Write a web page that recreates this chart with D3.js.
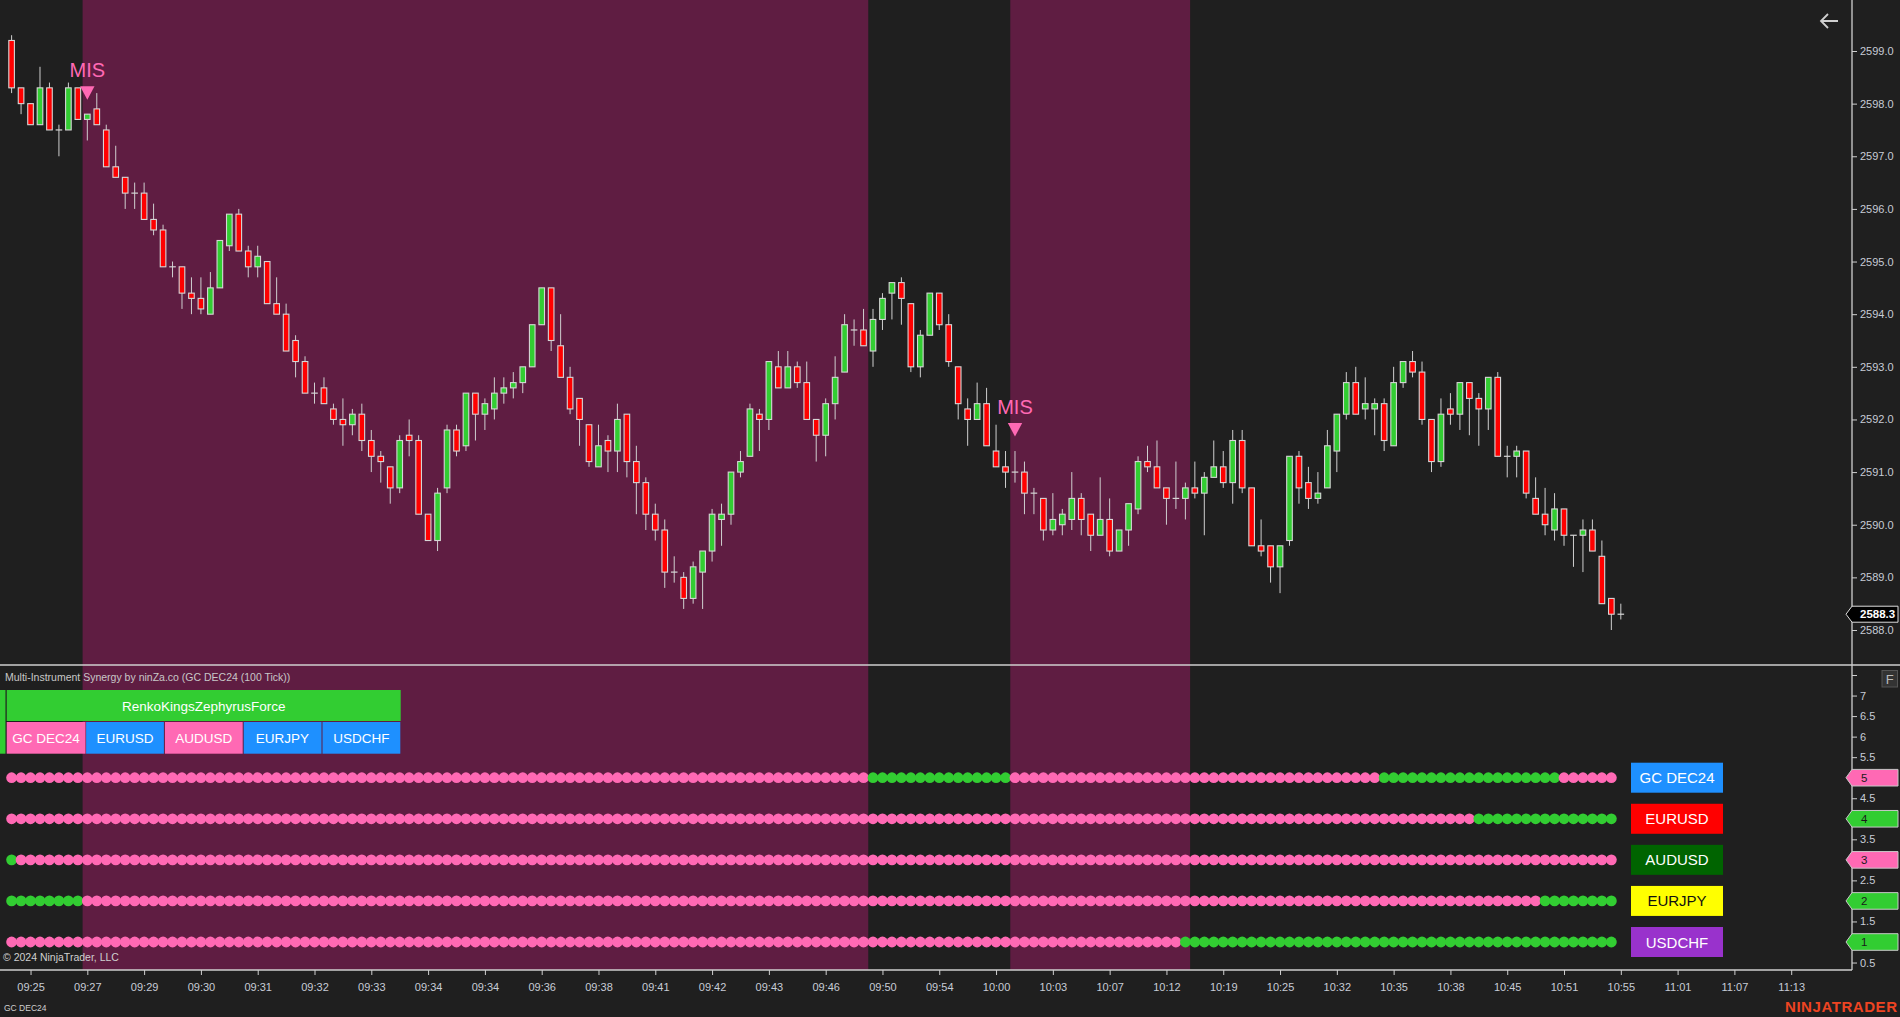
<!DOCTYPE html>
<html><head><meta charset="utf-8">
<script src="https://cdn.jsdelivr.net/npm/d3@7"></script>
<style>
html,body{margin:0;padding:0;background:#1f1f1f;overflow:hidden}
svg{display:block}
text{font-family:"Liberation Sans",Arial,sans-serif}
</style>
</head><body>
<svg id="c" width="1900" height="1017"></svg>
<script>
// ---------------- DATA ----------------
const opens=[2599.2,2598.3,2598.0,2597.6,2598.3,2597.5,2597.5,2598.3,2597.7,2597.9,
2597.5,2596.8,2596.6,2596.3,2596.3,2595.8,2595.6,2594.9,2594.9,2594.4,
2594.3,2594.0,2594.5,2595.3,2595.9,2595.2,2594.9,2595.0,2594.2,2594.0,
2593.5,2593.1,2592.5,2592.6,2592.2,2592.0,2591.9,2592.1,2591.6,2591.3,
2591.1,2590.7,2591.7,2591.6,2590.2,2589.7,2590.7,2591.8,2591.5,2592.5,
2592.1,2592.2,2592.5,2592.6,2592.7,2593.0,2593.8,2594.5,2593.4,2592.8,
2592.4,2591.9,2591.1,2591.6,2591.4,2592.1,2591.2,2590.8,2590.2,2589.9,
2589.1,2589.0,2588.6,2589.1,2589.5,2590.1,2590.2,2591.0,2591.3,2592.1,
2592.0,2593.0,2592.6,2593.0,2592.7,2592.0,2591.7,2592.3,2592.9,2593.7,
2593.7,2593.3,2593.9,2594.4,2594.6,2594.2,2593.0,2593.6,2594.4,2593.8,
2593.0,2592.2,2592.0,2592.3,2591.4,2591.1,2591.0,2591.0,2590.6,2590.5,
2589.9,2590.0,2590.1,2590.5,2590.2,2589.8,2590.1,2589.5,2589.9,2590.3,
2591.2,2591.1,2590.7,2590.5,2590.5,2590.7,2590.6,2590.9,2591.1,2590.8,
2591.6,2590.7,2589.6,2589.6,2589.2,2589.7,2591.3,2590.8,2590.5,2590.7,
2591.4,2592.1,2592.7,2592.2,2592.2,2592.3,2591.5,2592.7,2593.1,2592.9,
2592.0,2591.2,2592.2,2592.1,2592.7,2592.4,2592.2,2592.8,2591.3,2591.3,
2591.4,2590.5,2590.2,2589.9,2590.3,2589.8,2589.8,2589.9,2589.4,2588.6,
2588.3];
const highs=[2599.3,2598.3,2598.0,2598.7,2598.4,2597.6,2598.4,2598.3,2597.8,2598.2,
2597.6,2597.2,2596.6,2596.5,2596.5,2596.1,2595.7,2595.0,2594.9,2594.7,
2594.7,2594.8,2595.4,2595.9,2596.0,2595.3,2595.3,2595.0,2594.7,2594.2,
2593.6,2593.2,2592.7,2592.8,2592.3,2592.4,2592.2,2592.3,2591.8,2591.4,
2591.1,2591.7,2592.0,2591.7,2590.2,2590.7,2591.9,2591.9,2592.5,2592.5,
2592.4,2592.8,2592.8,2592.9,2593.0,2593.8,2594.5,2594.5,2594.0,2593.0,
2592.4,2591.9,2591.9,2591.7,2592.3,2592.1,2591.5,2590.9,2590.4,2590.1,
2589.4,2589.1,2589.3,2589.5,2590.3,2590.4,2591.0,2591.4,2592.3,2592.2,
2593.1,2593.3,2593.3,2593.1,2593.1,2592.0,2592.4,2593.2,2594.0,2593.9,
2594.1,2594.1,2594.4,2594.6,2594.7,2594.2,2593.7,2594.4,2594.4,2594.0,
2593.0,2592.4,2592.7,2592.6,2591.9,2591.4,2591.4,2591.2,2590.7,2590.5,
2590.6,2590.3,2591.0,2590.6,2590.2,2590.9,2590.5,2589.9,2590.4,2591.3,
2591.5,2591.6,2590.7,2591.2,2590.8,2591.2,2591.0,2591.6,2591.4,2591.8,
2591.8,2590.7,2590.1,2589.6,2589.6,2591.3,2591.4,2591.1,2591.0,2591.8,
2592.1,2592.9,2593.0,2592.8,2592.4,2592.4,2593.0,2593.1,2593.3,2593.1,
2592.0,2592.4,2592.5,2592.7,2592.7,2592.5,2592.8,2592.9,2591.5,2591.5,
2591.4,2590.9,2590.7,2590.6,2590.3,2589.8,2590.1,2590.1,2589.7,2588.6,
2588.5];
const lows=[2598.2,2597.8,2597.6,2597.6,2597.5,2597.0,2597.5,2597.7,2597.3,2597.6,
2596.8,2596.6,2596.0,2596.0,2595.8,2595.5,2594.9,2594.7,2594.1,2594.0,
2594.0,2594.0,2594.5,2595.2,2595.2,2594.7,2594.7,2594.2,2594.0,2593.3,
2592.8,2592.5,2592.3,2592.3,2591.9,2591.5,2591.7,2591.4,2591.0,2590.8,
2590.4,2590.6,2591.3,2590.2,2589.7,2589.5,2590.6,2591.3,2591.4,2591.6,
2591.8,2592.0,2592.3,2592.4,2592.5,2593.0,2593.8,2593.3,2592.8,2592.1,
2591.5,2591.1,2591.1,2591.0,2591.0,2590.9,2590.2,2589.9,2589.7,2588.8,
2588.9,2588.4,2588.5,2588.4,2589.3,2589.6,2590.0,2590.9,2591.3,2591.4,
2591.8,2592.6,2592.6,2592.6,2592.0,2591.2,2591.3,2592.0,2592.9,2593.4,
2593.4,2593.0,2593.7,2593.9,2593.8,2592.9,2592.8,2593.6,2593.7,2593.0,
2592.0,2591.5,2592.0,2591.5,2591.1,2590.7,2590.8,2590.2,2590.2,2589.7,
2589.8,2589.8,2589.9,2589.8,2589.5,2589.8,2589.4,2589.5,2589.6,2590.2,
2591.0,2590.7,2590.0,2590.3,2590.1,2590.5,2589.8,2590.9,2590.7,2590.4,
2590.6,2589.6,2589.4,2588.9,2588.7,2589.6,2590.4,2590.3,2590.4,2590.7,
2591.0,2592.0,2592.1,2592.0,2591.7,2591.4,2591.5,2592.6,2592.8,2591.9,
2591.0,2591.1,2591.9,2591.8,2591.7,2591.5,2591.8,2591.3,2590.9,2590.9,
2590.5,2590.2,2589.8,2589.7,2589.6,2589.2,2589.1,2589.5,2588.5,2588.0,
2588.2];
const closes=[2598.3,2598.0,2597.6,2598.3,2597.5,2597.5,2598.3,2597.7,2597.8,2597.6,
2596.8,2596.6,2596.3,2596.3,2595.8,2595.6,2594.9,2594.9,2594.4,2594.3,
2594.1,2594.5,2595.4,2595.9,2595.2,2594.9,2595.1,2594.2,2594.0,2593.3,
2593.1,2592.5,2592.5,2592.3,2592.0,2591.9,2592.1,2591.6,2591.3,2591.2,
2590.7,2591.6,2591.6,2590.2,2589.7,2590.6,2591.8,2591.4,2592.5,2592.1,
2592.3,2592.5,2592.6,2592.7,2593.0,2593.8,2594.5,2593.5,2592.8,2592.2,
2592.0,2591.2,2591.5,2591.4,2592.0,2591.2,2590.8,2590.2,2589.9,2589.1,
2589.1,2588.6,2589.2,2589.5,2590.2,2590.2,2591.0,2591.2,2592.2,2592.0,
2593.1,2592.6,2593.0,2592.7,2592.0,2591.7,2592.3,2592.8,2593.8,2593.7,
2593.4,2593.9,2594.3,2594.6,2594.3,2593.0,2593.6,2594.4,2593.8,2593.1,
2592.3,2592.0,2592.3,2591.5,2591.1,2591.0,2591.0,2590.6,2590.6,2589.9,
2590.1,2590.2,2590.5,2590.1,2589.8,2590.1,2589.5,2589.9,2590.4,2591.2,
2591.1,2590.7,2590.5,2590.5,2590.7,2590.6,2590.9,2591.1,2590.8,2591.6,
2590.7,2589.6,2589.5,2589.2,2589.6,2591.3,2590.7,2590.5,2590.6,2591.5,
2592.1,2592.7,2592.1,2592.3,2592.3,2591.6,2592.7,2593.1,2592.9,2592.0,
2591.2,2592.1,2592.1,2592.7,2592.4,2592.2,2592.8,2591.3,2591.3,2591.4,
2590.6,2590.2,2590.0,2590.3,2589.8,2589.8,2589.9,2589.5,2588.5,2588.3,
2588.3];

const timeLabels=["09:25","09:27","09:29","09:30","09:31","09:32","09:33","09:34","09:34","09:36",
"09:38","09:41","09:42","09:43","09:46","09:50","09:54","10:00","10:03","10:07","10:12",
"10:19","10:25","10:32","10:35","10:38","10:45","10:51","10:55","11:01","11:07","11:13"];
const priceTicks=[2588,2589,2590,2591,2592,2593,2594,2595,2596,2597,2598,2599];
const synergyTicks=[0.5,1,1.5,2,2.5,3,3.5,4,4.5,5,5.5,6,6.5,7,7.5];
const lastPrice=2588.3;

const instruments=["GC DEC24","EURUSD","AUDUSD","EURJPY","USDCHF"];
const instrumentLevels=[5,4,3,2,1];
const headerCellColors=["#ff69b4","#1e90ff","#ff69b4","#1e90ff","#1e90ff"];
const legendColors=["#1e90ff","#ff0000","#006400","#ffff00","#9932cc"];
const legendTextColors=["#ffffff","#ffffff","#ffffff","#111111","#ffffff"];
// signal runs per instrument: [firstBar, lastBar, state] (1 = bullish, -1 = bearish)
const gcRuns=[[0,90,-1],[91,105,1],[106,144,-1],[145,163,1],[164,169,-1]];
const eurusdRuns=[[0,154,-1],[155,169,1]];
const audusdRuns=[[0,0,1],[1,169,-1]];
const eurjpyRuns=[[0,7,1],[8,161,-1],[162,169,1]];
const usdchfRuns=[[0,123,-1],[124,169,1]];
const bearishBands=[[8,90],[106,124]];
const misSignals=[8,106];

// ---------------- DRAW ----------------
const svg=d3.select("#c");
const W=1900,H=1017;
const axisX=1852, dividerY=665, timeY=970;
const bull="#32cd32", bear="#ff69b4";

const x=d3.scaleLinear().domain([0,188]).range([11.6,1791.2]);
const step=x(1)-x(0);
const yP=d3.scaleLinear().domain([2588,2599]).range([630,51]);
const yS=d3.scaleLinear().domain([1,5]).range([942,777.7]);

svg.append("rect").attr("width",W).attr("height",H).attr("fill","#1f1f1f");

// bearish background bands
svg.append("g").selectAll("rect").data(bearishBands).join("rect")
  .attr("x",d=>x(d[0])-step/2).attr("width",d=>x(d[1])-x(d[0])+step)
  .attr("y",0).attr("height",timeY).attr("fill","#5f1d42");

// candles
const bars=d3.range(opens.length).map(i=>({i,o:opens[i],h:highs[i],l:lows[i],c:closes[i]}));
const cg=svg.append("g");
cg.selectAll("line.wick").data(bars).join("line").attr("class","wick")
  .attr("x1",d=>x(d.i)).attr("x2",d=>x(d.i))
  .attr("y1",d=>yP(d.h)).attr("y2",d=>yP(d.l))
  .attr("stroke","#cfcfcf").attr("stroke-width",1);
const bw=5.6;
cg.selectAll("rect.body").data(bars.filter(d=>Math.abs(d.o-d.c)>0.001)).join("rect").attr("class","body")
  .attr("x",d=>x(d.i)-bw/2).attr("width",bw)
  .attr("y",d=>yP(Math.max(d.o,d.c))).attr("height",d=>Math.abs(yP(d.o)-yP(d.c)))
  .attr("fill",d=>d.c>d.o?"#32cd32":"#ff0000")
  .attr("stroke","#d6d6d6").attr("stroke-width",1.1);
cg.selectAll("line.doji").data(bars.filter(d=>Math.abs(d.o-d.c)<=0.001)).join("line").attr("class","doji")
  .attr("x1",d=>x(d.i)-3.3).attr("x2",d=>x(d.i)+3.3)
  .attr("y1",d=>yP(d.c)).attr("y2",d=>yP(d.c))
  .attr("stroke","#d6d6d6").attr("stroke-width",1.2);

// MIS signals
const mg=svg.append("g");
misSignals.forEach(b=>{
  const yh=yP(highs[b]), cx=x(b);
  mg.append("path").attr("d",`M${cx-7.2},${yh-28}L${cx+7.2},${yh-28}L${cx},${yh-14.5}Z`).attr("fill","#ff69b4");
  mg.append("text").attr("x",cx).attr("y",yh-37).attr("text-anchor","middle")
    .attr("font-size",20).attr("fill","#ff69b4").text("MIS");
});

// divider
svg.append("line").attr("x1",0).attr("x2",W).attr("y1",dividerY).attr("y2",dividerY)
  .attr("stroke","#cfcfcf").attr("stroke-width",1.3);

// price axis
svg.append("line").attr("x1",axisX).attr("x2",axisX).attr("y1",0).attr("y2",timeY)
  .attr("stroke","#cfcfcf").attr("stroke-width",1.3);
const pa=svg.append("g").attr("transform",`translate(${axisX},0)`)
  .call(d3.axisRight(yP).tickValues(priceTicks).tickFormat(d3.format(".1f")).tickSize(5).tickPadding(3));
pa.select(".domain").remove();
pa.selectAll("line").attr("stroke","#cfcfcf");
pa.selectAll("text").attr("fill","#c7ccd6").attr("font-size",11).attr("font-family","Liberation Sans, Arial");

// last price marker
const lpY=yP(lastPrice);
svg.append("path").attr("d",`M${axisX-6},${lpY}L${axisX},${lpY-8}L1898,${lpY-8}L1898,${lpY+8}L${axisX},${lpY+8}Z`)
  .attr("fill","#000").attr("stroke","#dcdcdc").attr("stroke-width",1);
svg.append("text").attr("x",axisX+8).attr("y",lpY+4).attr("font-size",11.5).attr("font-weight","bold")
  .attr("fill","#fff").text(lastPrice.toFixed(1));

// back arrow
svg.append("path").attr("d","M1838,21H1821M1828,14L1821,21L1828,28").attr("fill","none")
  .attr("stroke","#cfcfcf").attr("stroke-width",1.8);

// lower panel title & header
svg.append("text").attr("x",5).attr("y",680.5).attr("font-size",10.5).attr("fill","#c8c8c8")
  .text("Multi-Instrument Synergy by ninZa.co (GC DEC24 (100 Tick))");
svg.append("rect").attr("x",0).attr("y",690).attr("width",5.5).attr("height",63.7).attr("fill",bull);
svg.append("rect").attr("x",6.7).attr("y",690).attr("width",394).attr("height",31).attr("fill",bull);
svg.append("text").attr("x",6.7+197).attr("y",710.5).attr("text-anchor","middle").attr("font-size",13.5)
  .attr("fill","#fff").text("RenkoKingsZephyrusForce");
const cellW=394/5;
instruments.forEach((name,k)=>{
  svg.append("rect").attr("x",6.7+k*cellW+(k?0.6:0)).attr("y",722).attr("width",cellW-(k?1:0)).attr("height",31.7)
    .attr("fill",headerCellColors[k]);
  svg.append("text").attr("x",6.7+k*cellW+cellW/2).attr("y",742.5).attr("text-anchor","middle")
    .attr("font-size",13.5).attr("fill","#fff").text(name);
});

// signal dots
const allRuns=[gcRuns,eurusdRuns,audusdRuns,eurjpyRuns,usdchfRuns];
const dg=svg.append("g");
allRuns.forEach((runs,k)=>{
  const pts=[];
  runs.forEach(r=>{for(let b=r[0];b<=r[1];b++)pts.push({b,s:r[2]});});
  dg.append("g").selectAll("circle").data(pts).join("circle")
    .attr("cx",d=>x(d.b)).attr("cy",yS(instrumentLevels[k])).attr("r",5.4)
    .attr("fill",d=>d.s>0?bull:bear);
});

// legend boxes at right
instruments.forEach((name,k)=>{
  const cy=yS(instrumentLevels[k]);
  svg.append("rect").attr("x",1631).attr("y",cy-15).attr("width",92).attr("height",30).attr("fill",legendColors[k]);
  svg.append("text").attr("x",1677).attr("y",cy+5.5).attr("text-anchor","middle").attr("font-size",15)
    .attr("fill",legendTextColors[k]).text(name);
});

// synergy axis
const sa=svg.append("g").attr("transform",`translate(${axisX},0)`)
  .call(d3.axisRight(yS).tickValues(synergyTicks).tickFormat(d=>d===7.5?"":d3.format("~g")(d)).tickSize(5).tickPadding(3));
sa.select(".domain").remove();
sa.selectAll("line").attr("stroke","#cfcfcf");
sa.selectAll("text").attr("fill","#c7ccd6").attr("font-size",11).attr("font-family","Liberation Sans, Arial");

// synergy value markers
instruments.forEach((name,k)=>{
  const runs=allRuns[k], last=runs[runs.length-1][2];
  const lv=instrumentLevels[k], cy=yS(lv);
  svg.append("path").attr("d",`M${axisX-6},${cy}L${axisX},${cy-8.3}L1898,${cy-8.3}L1898,${cy+8.3}L${axisX},${cy+8.3}Z`)
    .attr("fill",last>0?bull:bear).attr("stroke","#c8c8c8").attr("stroke-width",1);
  svg.append("text").attr("x",axisX+9).attr("y",cy+4).attr("font-size",11.5).attr("fill","#1a1a1a").text(lv);
});

// F button
svg.append("rect").attr("x",1882).attr("y",670.5).attr("width",15.5).attr("height",16.5)
  .attr("fill","#333").attr("stroke","#555");
svg.append("text").attr("x",1889.7).attr("y",683.5).attr("text-anchor","middle").attr("font-size",13)
  .attr("fill","#bbb").text("F");

// copyright
svg.append("text").attr("x",3).attr("y",961).attr("font-size",10.5).attr("fill","#d0d0d0").text("© 2024 NinjaTrader, LLC");

// time axis
svg.append("line").attr("x1",0).attr("x2",axisX).attr("y1",timeY).attr("y2",timeY)
  .attr("stroke","#cfcfcf").attr("stroke-width",1.3);
const labelBars=timeLabels.map((t,k)=>2+6*k);
const ta=svg.append("g").attr("transform",`translate(0,${timeY})`)
  .call(d3.axisBottom(x).tickValues(labelBars).tickFormat((d,k)=>timeLabels[k]).tickSize(5).tickPadding(8));
ta.select(".domain").remove();
ta.selectAll("line").attr("stroke","#cfcfcf");
ta.selectAll("text").attr("fill","#c7ccd6").attr("font-size",11).attr("font-family","Liberation Sans, Arial");

svg.append("text").attr("x",4).attr("y",1011).attr("font-size",8.5).attr("fill","#d0d0d0").text("GC DEC24");
svg.append("text").attr("x",1897).attr("y",1012).attr("text-anchor","end").attr("font-size",15)
  .attr("font-weight","bold").attr("fill","#ee4422").attr("textLength",112).text("NINJATRADER");
</script>
</body></html>
